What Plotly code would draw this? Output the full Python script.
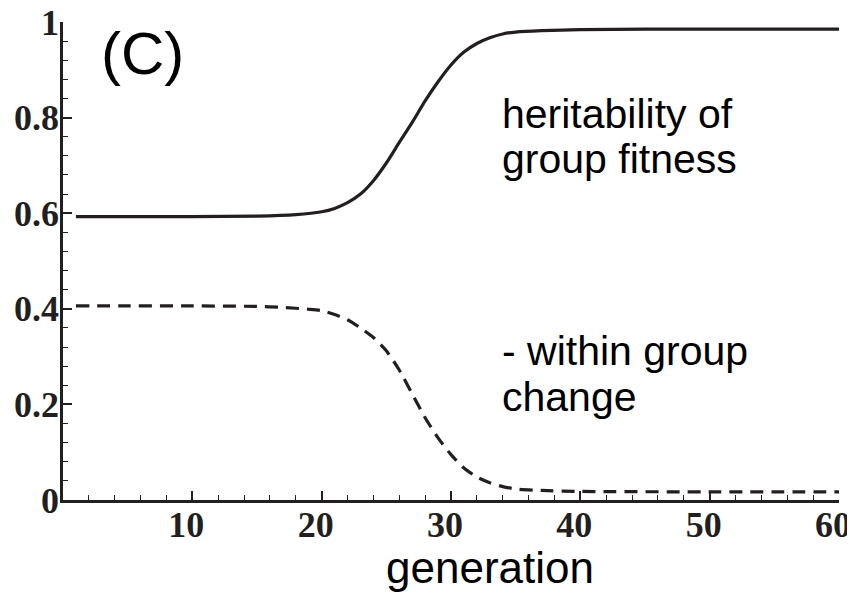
import plotly.graph_objects as go

# Generation values and the curves
gen_h = [1, 5, 10, 15, 18, 20, 21, 22, 23, 24, 25, 26, 27, 28, 29, 30, 31, 32,
         33, 34, 35, 37, 40, 45, 50, 60]
heritability = [0.593, 0.593, 0.593, 0.594, 0.597, 0.603, 0.610, 0.622, 0.640,
                0.668, 0.705, 0.748, 0.790, 0.835, 0.875, 0.910, 0.937, 0.955,
                0.967, 0.975, 0.979, 0.982, 0.984, 0.985, 0.985, 0.985]

gen_w = [1, 5, 10, 15, 17, 19, 20, 21, 22, 23, 24, 25, 26, 27, 28, 29, 30, 31,
         32, 33, 34, 35, 37, 40, 50, 60]
within_change = [0.406, 0.406, 0.406, 0.405, 0.403, 0.399, 0.396, 0.388, 0.377,
                 0.360, 0.340, 0.312, 0.272, 0.222, 0.172, 0.130, 0.095, 0.067,
                 0.048, 0.036, 0.028, 0.023, 0.020, 0.018, 0.017, 0.017]

x_ticks = [10, 20, 30, 40, 50, 60]
y_ticks = [0, 0.2, 0.4, 0.6, 0.8, 1]
y_tick_text = ["0", "0.2", "0.4", "0.6", "0.8", "1"]

INK = "#231f20"
SERIF = "Liberation Serif, Times New Roman, serif"
SANS = "Liberation Sans, Arial, sans-serif"

fig = go.Figure()
fig.add_trace(go.Scatter(x=gen_h, y=heritability, mode="lines",
                         line=dict(color=INK, width=3.2, shape="spline", smoothing=0.6),
                         showlegend=False, hoverinfo="skip"))
fig.add_trace(go.Scatter(x=gen_w, y=within_change, mode="lines",
                         line=dict(color=INK, width=3.2, dash="13px,8px",
                                   shape="spline", smoothing=0.6),
                         showlegend=False, hoverinfo="skip"))

axis_common = dict(showgrid=False, zeroline=False, showline=True, linecolor=INK,
                   linewidth=2.5, ticks="inside", tickcolor=INK, tickwidth=1.5,
                   ticklen=9, automargin=False, ticklabeloverflow="allow",
                   tickfont=dict(family=SERIF, size=36, color=INK, weight="bold"))

fig.update_xaxes(range=[0, 60], tickvals=x_ticks,
                 ticktext=[str(v) for v in x_ticks],
                 ticklabelstandoff=-9, ticklabelshift=-6,
                 minor=dict(dtick=2, tick0=0, ticks="inside", ticklen=5,
                            tickcolor=INK, tickwidth=1),
                 **axis_common)
fig.update_yaxes(range=[0, 1], tickvals=y_ticks, ticktext=y_tick_text,
                 ticklabelstandoff=-6,
                 minor=dict(dtick=0.04, tick0=0, ticks="inside", ticklen=5,
                            tickcolor=INK, tickwidth=1),
                 **axis_common)

ann = [
    dict(text="(C)", x=6.15, y=0.935, font=dict(size=60)),
    dict(text="heritability of", x=33.8, y=0.807, xanchor="left"),
    dict(text="group fitness", x=33.8, y=0.713, xanchor="left"),
    dict(text="- within group", x=33.8, y=0.312, xanchor="left"),
    dict(text="change", x=33.8, y=0.215, xanchor="left"),
]
for a in ann:
    font = dict(family=SANS, size=41, color="black")
    font.update(a.pop("font", {}))
    fig.add_annotation(xref="x", yref="y", showarrow=False, yanchor="middle",
                       font=font, **a)
fig.add_annotation(text="generation", xref="paper", yref="paper", x=0.5505, y=-0.142,
                   showarrow=False, xanchor="center", yanchor="middle",
                   font=dict(family=SANS, size=44, color="black"))

# the page adds an 8px body margin, so the figure is 8px smaller each way
fig.update_layout(width=847, height=584, margin=dict(l=55, r=16, t=14, b=92),
                  plot_bgcolor="white", paper_bgcolor="white")

fig.write_html("out.html")
